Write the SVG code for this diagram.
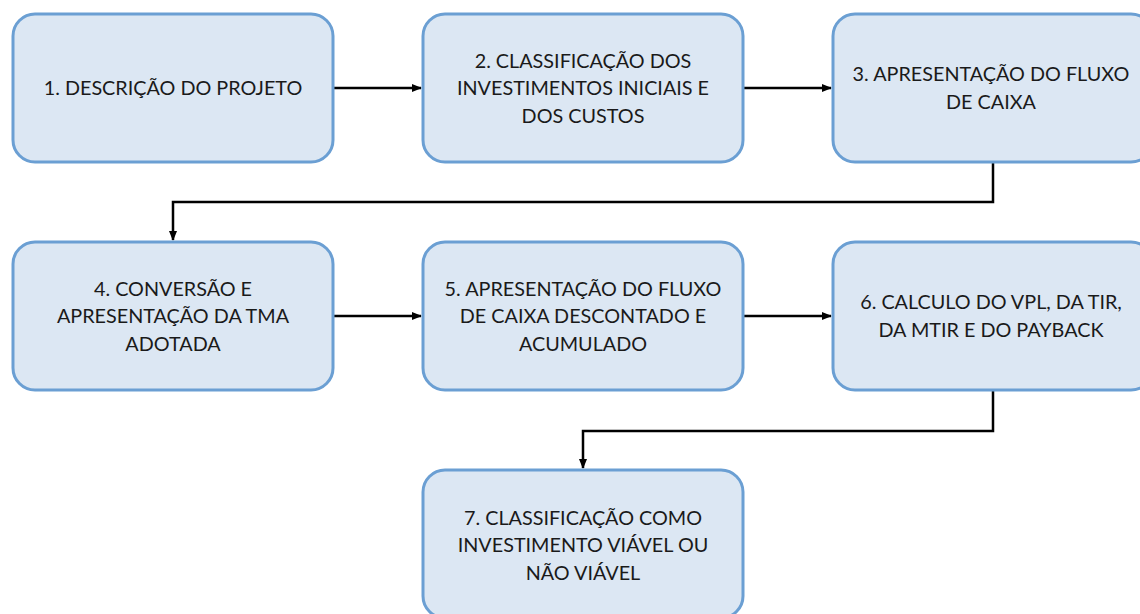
<svg xmlns="http://www.w3.org/2000/svg" width="1140" height="614" viewBox="0 0 1140 614">
<style>
.box{fill:#dce7f3;stroke:#6b9fd3;stroke-width:3}
.t{font-family:Lato,"Open Sans","Liberation Sans",sans-serif;font-size:19.8px;fill:#1a1a1a;text-anchor:middle}
.c{fill:none;stroke:#000;stroke-width:2.5}
</style>
<defs>
<marker id="a" markerWidth="10" markerHeight="8" refX="9" refY="4" orient="auto" markerUnits="userSpaceOnUse">
<path d="M0,0 L10,4 L0,8 Z" fill="#000"/>
</marker>
</defs>
<rect width="1140" height="614" fill="#fff"/>
<g id="connectors">
<path class="c" d="M333,88 H421" marker-end="url(#a)"/>
<path class="c" d="M743,88 H831" marker-end="url(#a)"/>
<path class="c" d="M993,162 V202 H173 V240" marker-end="url(#a)"/>
<path class="c" d="M333,316 H421" marker-end="url(#a)"/>
<path class="c" d="M743,316 H831" marker-end="url(#a)"/>
<path class="c" d="M993,390 V431 H583 V468" marker-end="url(#a)"/>
</g>
<g id="n1"><rect class="box" x="13" y="14" width="320" height="148" rx="22"/>
<text class="t" x="173" y="95">1. DESCRIÇÃO DO PROJETO</text></g>
<g id="n2"><rect class="box" x="423" y="14" width="320" height="148" rx="22"/>
<text class="t" x="583" y="68">2. CLASSIFICAÇÃO DOS</text>
<text class="t" x="583" y="95">INVESTIMENTOS INICIAIS E</text>
<text class="t" x="583" y="123">DOS CUSTOS</text></g>
<g id="n3"><rect class="box" x="833" y="14" width="320" height="148" rx="22"/>
<text class="t" x="991" y="81">3. APRESENTAÇÃO DO FLUXO</text>
<text class="t" x="991" y="109">DE CAIXA</text></g>
<g id="n4"><rect class="box" x="13" y="242" width="320" height="148" rx="22"/>
<text class="t" x="173" y="296">4. CONVERSÃO E</text>
<text class="t" x="173" y="323">APRESENTAÇÃO DA TMA</text>
<text class="t" x="173" y="351">ADOTADA</text></g>
<g id="n5"><rect class="box" x="423" y="242" width="320" height="148" rx="22"/>
<text class="t" x="583" y="296">5. APRESENTAÇÃO DO FLUXO</text>
<text class="t" x="583" y="323">DE CAIXA DESCONTADO E</text>
<text class="t" x="583" y="351">ACUMULADO</text></g>
<g id="n6"><rect class="box" x="833" y="242" width="320" height="148" rx="22"/>
<text class="t" x="991" y="309">6. CALCULO DO VPL, DA TIR,</text>
<text class="t" x="991" y="337">DA MTIR E DO PAYBACK</text></g>
<g id="n7"><rect class="box" x="423" y="470" width="320" height="148" rx="22"/>
<text class="t" x="583" y="525">7. CLASSIFICAÇÃO COMO</text>
<text class="t" x="583" y="552">INVESTIMENTO VIÁVEL OU</text>
<text class="t" x="583" y="580">NÃO VIÁVEL</text></g>
</svg>
